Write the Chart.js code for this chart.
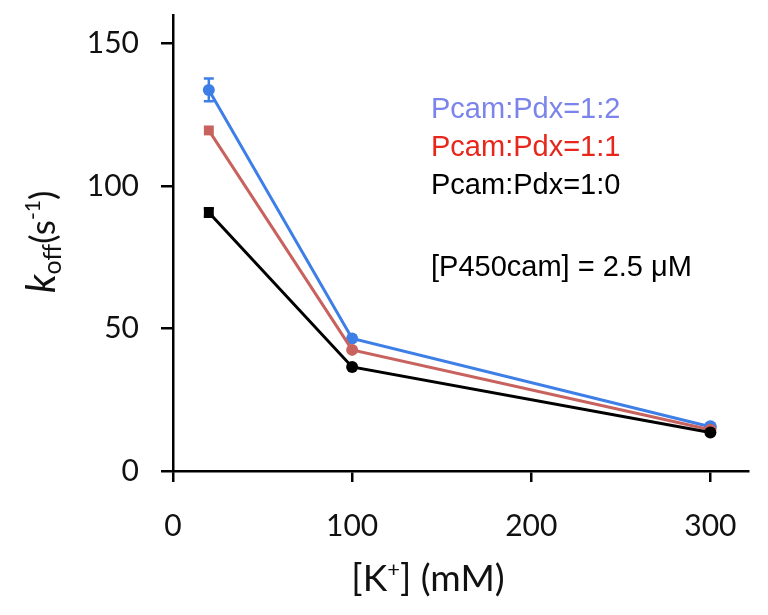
<!DOCTYPE html>
<html><head><meta charset="utf-8">
<script src="https://cdn.jsdelivr.net/npm/chart.js@4.4.1/dist/chart.umd.min.js"></script>
<style>html,body{margin:0;padding:0;background:#fff}#wrap{width:768px;height:615px}</style>
</head><body><div id="wrap"><canvas id="c" width="768" height="615"></canvas></div>
<script>
const potassium = [20, 100, 300];
const koffPdx12 = [133.7, 46.5, 15.5];
const koffPdx11 = [119.5, 42.5, 14.5];
const koffPdx10 = [90.7, 36.5, 13.5];
const err12 = [4, 0, 0];
const err11 = [0, 0, 0];
const err10 = [1.5, 0, 0];
const xTicks = [0, 100, 200, 300];
const yTicks = [0, 50, 100, 150];
const seriesNames = ['Pcam:Pdx=1:2', 'Pcam:Pdx=1:1', 'Pcam:Pdx=1:0'];
const noteText = '[P450cam] = 2.5 \u03bcM';

const toPts = (ys) => potassium.map((x, i) => ({x, y: ys[i]}));

const errorBars = {
  id: 'errorBars',
  afterDatasetsDraw(chart) {
    const ctx = chart.ctx, ys = chart.scales.y, xs = chart.scales.x;
    chart.data.datasets.forEach(ds => {
      ctx.save();
      ctx.strokeStyle = ds.borderColor; ctx.lineWidth = 2.5;
      ds.data.forEach((p, i) => {
        const e = ds.errs[i]; if (!e) return;
        const px = xs.getPixelForValue(p.x);
        const y1 = ys.getPixelForValue(p.y + e), y2 = ys.getPixelForValue(p.y - e);
        ctx.beginPath();
        ctx.moveTo(px, y1); ctx.lineTo(px, y2);
        ctx.moveTo(px - 5, y1); ctx.lineTo(px + 5, y1);
        ctx.moveTo(px - 5, y2); ctx.lineTo(px + 5, y2);
        ctx.stroke();
      });
      ctx.restore();
    });
  }
};

const FF = 'Lato, "Open Sans", sans-serif';
const texts = {
  id: 'texts',
  afterDraw(chart) {
    const ctx = chart.ctx;
    ctx.save();
    ctx.textBaseline = 'alphabetic'; ctx.textAlign = 'left';
    ctx.font = '29px "Liberation Sans", Arial, sans-serif';
    const cols = ['#7b84ea', '#e8261c', '#000000'];
    const yy = [118, 156, 194];
    seriesNames.forEach((s, i) => { ctx.fillStyle = cols[i]; ctx.fillText(s, 431, yy[i]); });
    ctx.fillStyle = '#000';
    ctx.fillText(noteText, 431, 276);
    // x title
    ctx.fillStyle = '#111';
    const parts = [['[K', '37px ' + FF, 0], ['+', '22px ' + FF, -14], ['] (mM)', '37px ' + FF, 0]];
    let w = 0;
    parts.forEach(p => { ctx.font = p[1]; w += ctx.measureText(p[0]).width; });
    let x = 428 - w / 2;
    parts.forEach(p => { ctx.font = p[1]; ctx.fillText(p[0], x, 591 + p[2]); x += ctx.measureText(p[0]).width; });
    // y title rotated
    ctx.translate(55, 242);
    ctx.rotate(-Math.PI / 2);
    const yparts = [['k', 'italic 40px ' + FF, 0], ['off', '25px ' + FF, 6], ['(s', '35px ' + FF, 0], ['-1', '21px ' + FF, -15], [')', '35px ' + FF, 0]];
    w = 0;
    yparts.forEach(p => { ctx.font = p[1]; w += ctx.measureText(p[0]).width; });
    x = -w / 2;
    yparts.forEach(p => { ctx.font = p[1]; ctx.fillText(p[0], x, p[2]); x += ctx.measureText(p[0]).width; });
    ctx.restore();
  }
};

const mk = (label, ys, errs, color, styles, radii) => ({
  label, data: toPts(ys), errs,
  borderColor: color, backgroundColor: color,
  borderWidth: 3, pointRadius: radii, pointStyle: styles,
  pointBorderWidth: 0, tension: 0
});

new Chart(document.getElementById('c'), {
  type: 'line',
  data: { datasets: [
    mk(seriesNames[2], koffPdx10, err10, '#000000', ['rect', 'circle', 'circle'], [7, 6, 6]),
    mk(seriesNames[1], koffPdx11, err11, '#c8625e', ['rect', 'circle', 'circle'], [7, 6, 6]),
    mk(seriesNames[0], koffPdx12, err12, '#3d7fe6', ['circle', 'circle', 'circle'], [6, 6, 6.5])
  ]},
  options: {
    responsive: false, animation: false, devicePixelRatio: 1,
    layout: { padding: { top: 15, right: 20, left: 0, bottom: 0 } },
    plugins: { legend: { display: false }, tooltip: { enabled: false } },
    scales: {
      x: {
        type: 'linear', min: 0, max: 321,
        afterBuildTicks: s => { s.ticks = xTicks.map(v => ({ value: v })); },
        afterFit: s => { s.height = 144; s.paddingLeft = 0; s.paddingRight = 0; },
        border: { display: true, color: '#000', width: 2.5 },
        grid: { display: true, drawOnChartArea: false, drawTicks: true, tickLength: 11, color: '#000', lineWidth: 2.5 },
        ticks: { color: '#111', padding: 26, font: { size: 30, family: FF }, maxRotation: 0 }
      },
      y: {
        type: 'linear', min: 0, max: 160,
        afterBuildTicks: s => { s.ticks = yTicks.map(v => ({ value: v })); },
        afterFit: s => { s.width = 173; s.paddingTop = 0; s.paddingBottom = 0; },
        border: { display: true, color: '#000', width: 2.5 },
        grid: { display: true, drawOnChartArea: false, drawTicks: true, tickLength: 12, color: '#000', lineWidth: 2.5 },
        ticks: { color: '#111', padding: 22, font: { size: 30, family: FF } }
      }
    }
  },
  plugins: [errorBars, texts]
});
</script></body></html>
